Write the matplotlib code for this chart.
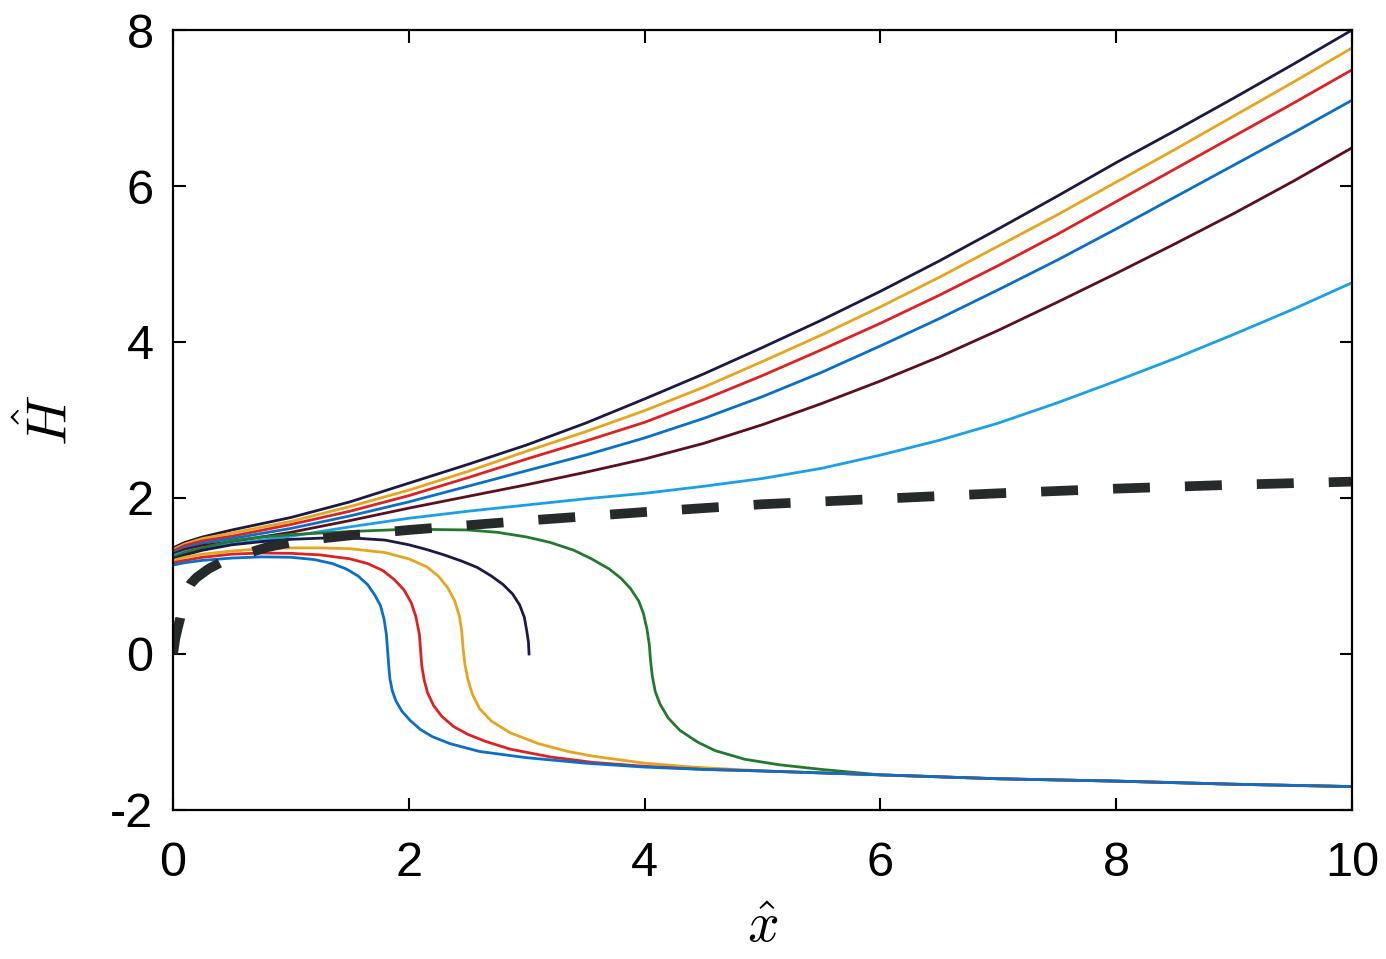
import numpy as np
import matplotlib
matplotlib.use("Agg")
import matplotlib.pyplot as plt

plt.rcParams['font.family'] = ['Liberation Sans', 'DejaVu Sans']
plt.rcParams['mathtext.fontset'] = 'cm'
plt.rcParams['axes.unicode_minus'] = False

# upper branch (all curves sampled at the same x)
x_up = [0, 0.1, 0.25, 0.5, 1, 1.5, 2, 2.5, 3, 3.5, 4, 4.5, 5, 5.5, 6, 6.5, 7, 7.5,
        8, 8.5, 9, 9.5, 10]
H_navy = [1.36, 1.43, 1.50, 1.59, 1.75, 1.95, 2.19, 2.43, 2.68, 2.96, 3.27, 3.59, 3.93,
          4.28, 4.65, 5.04, 5.45, 5.87, 6.30, 6.71, 7.13, 7.56, 8.00]
H_orange = [1.34, 1.41, 1.48, 1.55, 1.70, 1.89, 2.10, 2.34, 2.60, 2.85, 3.12, 3.42, 3.75,
            4.09, 4.45, 4.83, 5.23, 5.63, 6.05, 6.47, 6.90, 7.33, 7.77]
H_red = [1.32, 1.39, 1.45, 1.51, 1.66, 1.83, 2.03, 2.26, 2.50, 2.73, 2.97, 3.26, 3.57,
         3.90, 4.24, 4.60, 4.98, 5.38, 5.80, 6.22, 6.64, 7.06, 7.49]
H_blue = [1.30, 1.36, 1.42, 1.48, 1.61, 1.77, 1.95, 2.15, 2.35, 2.55, 2.77, 3.02, 3.30,
          3.61, 3.95, 4.30, 4.67, 5.05, 5.45, 5.86, 6.27, 6.68, 7.10]
H_maroon = [1.28, 1.34, 1.39, 1.44, 1.56, 1.71, 1.87, 2.02, 2.17, 2.33, 2.50, 2.70, 2.94,
            3.21, 3.50, 3.81, 4.15, 4.51, 4.88, 5.26, 5.65, 6.06, 6.49]
H_lblue = [1.26, 1.31, 1.36, 1.41, 1.51, 1.63, 1.74, 1.83, 1.91, 1.99, 2.06, 2.15, 2.25,
           2.38, 2.55, 2.74, 2.96, 3.22, 3.50, 3.79, 4.10, 4.42, 4.76]

# common tail of the lower branch
x_tail = [4.5, 5, 6, 7, 8, 9, 10]
H_tail = [-1.48, -1.50, -1.55, -1.60, -1.63, -1.67, -1.70]

x_blue2 = [0, 0.1, 0.25, 0.5, 0.75, 1.0, 1.2, 1.35, 1.47, 1.57, 1.65, 1.71, 1.76, 1.79,
           1.81, 1.82, 1.83, 1.84, 1.86, 1.89, 1.94, 2.01, 2.1, 2.2, 2.35, 2.6, 3.0,
           3.5, 4.0] + x_tail
H_blue2 = [1.14, 1.17, 1.20, 1.23, 1.245, 1.24, 1.21, 1.16, 1.09, 1.00, 0.89, 0.76,
           0.62, 0.45, 0.25, 0.05, -0.15, -0.32, -0.47, -0.60, -0.73, -0.85, -0.97,
           -1.06, -1.15, -1.25, -1.33, -1.40, -1.45] + H_tail

x_red2 = [0, 0.1, 0.25, 0.5, 0.75, 1.0, 1.25, 1.5, 1.65, 1.78, 1.88, 1.96, 2.02, 2.06,
          2.09, 2.10, 2.11, 2.13, 2.16, 2.21, 2.28, 2.38, 2.5, 2.65, 2.86, 3.2, 3.56,
          4.0] + x_tail
H_red2 = [1.17, 1.20, 1.24, 1.28, 1.295, 1.29, 1.27, 1.22, 1.16, 1.07, 0.95, 0.82, 0.66,
          0.48, 0.25, 0.05, -0.15, -0.33, -0.50, -0.66, -0.80, -0.93, -1.03, -1.12,
          -1.22, -1.32, -1.39, -1.44] + H_tail

x_orange2 = [0, 0.1, 0.25, 0.5, 0.75, 1.0, 1.25, 1.5, 1.8, 2.0, 2.15, 2.25, 2.33, 2.39,
             2.43, 2.45, 2.46, 2.475, 2.5, 2.54, 2.6, 2.7, 2.86, 3.1, 3.35, 3.56, 4.0,
             4.41, 5, 6, 7, 8, 9, 10]
H_orange2 = [1.20, 1.24, 1.28, 1.32, 1.35, 1.36, 1.36, 1.35, 1.30, 1.22, 1.12, 1.00,
             0.85, 0.68, 0.48, 0.28, 0.08, -0.12, -0.32, -0.52, -0.70, -0.86, -1.01,
             -1.15, -1.25, -1.31, -1.40, -1.45, -1.50, -1.55, -1.60, -1.63, -1.67, -1.70]

x_navy2 = [0, 0.1, 0.25, 0.5, 0.75, 1.0, 1.25, 1.5, 1.8, 2.0, 2.15, 2.3, 2.45, 2.58,
           2.7, 2.8, 2.88, 2.94, 2.98, 3.0, 3.015, 3.02]
H_navy2 = [1.22, 1.27, 1.33, 1.40, 1.44, 1.47, 1.485, 1.49, 1.46, 1.40, 1.34, 1.27,
           1.19, 1.11, 1.00, 0.89, 0.77, 0.63, 0.47, 0.30, 0.15, 0.0]

x_green = [0, 0.1, 0.25, 0.5, 0.75, 1.0, 1.5, 2.0, 2.5, 2.75, 3.0, 3.2, 3.4, 3.55, 3.7,
           3.8, 3.88, 3.95, 3.99, 4.02, 4.04, 4.05, 4.065, 4.09, 4.13, 4.2, 4.3, 4.45,
           4.6, 4.85, 5.14, 5.5, 6, 7, 8, 9, 10]
H_green = [1.24, 1.30, 1.36, 1.45, 1.50, 1.53, 1.57, 1.60, 1.59, 1.56, 1.50, 1.43, 1.33,
           1.22, 1.09, 0.97, 0.84, 0.68, 0.52, 0.32, 0.12, -0.08, -0.28, -0.48, -0.64,
           -0.82, -0.98, -1.13, -1.24, -1.35, -1.42, -1.48, -1.55, -1.60, -1.63, -1.67,
           -1.70]

# dashed boundary
x_dash = [0, 0.02, 0.04, 0.06, 0.08, 0.1, 0.15, 0.2, 0.3, 0.4, 0.5, 0.65, 0.8, 1.0,
          1.25, 1.5, 2, 2.5, 3, 4, 5, 6, 7, 8, 9, 10]
H_dash = [0, 0.20, 0.33, 0.45, 0.62, 0.76, 0.90, 0.98, 1.09, 1.17, 1.23, 1.30, 1.37,
          1.43, 1.48, 1.52, 1.59, 1.65, 1.71, 1.82, 1.92, 1.99, 2.06, 2.12, 2.17, 2.21]

c_navy = '#1c1a45'
c_orange = '#e6a51e'
c_red = '#dd2222'
c_blue = '#0a6fc8'
c_maroon = '#5c0f1e'
c_lblue = '#1aa0e6'
c_green = '#237a2e'

fig = plt.figure(figsize=(13.86, 9.59), dpi=100)
ax = fig.add_axes([0.1248, 0.1554, 0.8507, 0.8133])

lw = 2.0
ax.plot(x_up, H_navy, color=c_navy, lw=lw)
ax.plot(x_up, H_orange, color=c_orange, lw=lw)
ax.plot(x_up, H_red, color=c_red, lw=lw)
ax.plot(x_up, H_blue, color=c_blue, lw=lw)
ax.plot(x_up, H_maroon, color=c_maroon, lw=lw)
ax.plot(x_up, H_lblue, color=c_lblue, lw=lw)

ax.plot(x_green, H_green, color=c_green, lw=lw)
ax.plot(x_navy2, H_navy2, color=c_navy, lw=lw)
ax.plot(x_orange2, H_orange2, color=c_orange, lw=lw)
ax.plot(x_red2, H_red2, color=c_red, lw=lw)
ax.plot(x_blue2, H_blue2, color=c_blue, lw=lw)

ax.plot(x_dash, H_dash, color='#262a2a', lw=7, dashes=(3.8, 3.6),
        dash_capstyle='butt')

ax.set_xlim(0, 10)
ax.set_ylim(-2, 8)
ax.set_xticks([0, 2, 4, 6, 8, 10])
ax.set_yticks([-2, 0, 2, 4, 6, 8])
ax.tick_params(direction='in', length=9, width=1.5, top=True, right=True,
               labelsize=35)
ax.tick_params(axis='x', pad=22)
ax.tick_params(axis='y', pad=14)
for s in ax.spines.values():
    s.set_linewidth(1.6)

ax.set_xlabel(r'$\hat{x}$', fontsize=40, labelpad=12)
ax.set_ylabel(r'$\hat{H}$', fontsize=40, labelpad=22)

fig.savefig('out.png', dpi=100)
